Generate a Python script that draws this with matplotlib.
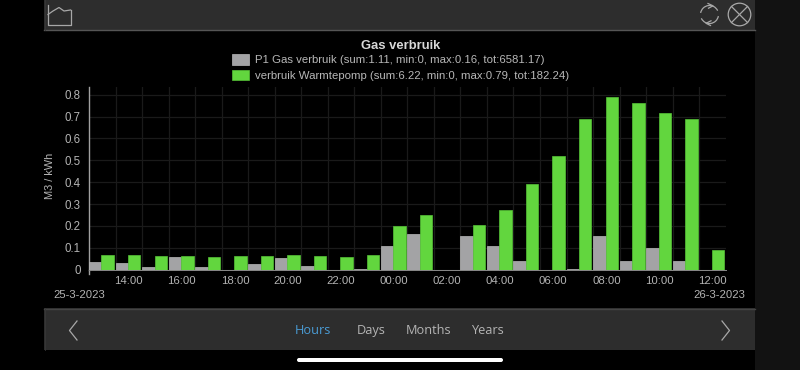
import matplotlib
matplotlib.use("Agg")
import matplotlib.pyplot as plt
from matplotlib.patches import Rectangle, Circle, FancyBboxPatch, Arc
import numpy as np

plt.rcParams['font.family'] = ['Liberation Sans', 'DejaVu Sans']

hours = ["13:00","14:00","15:00","16:00","17:00","18:00","19:00","20:00","21:00","22:00","23:00","00:00",
         "01:00","02:00","03:00","04:00","05:00","06:00","07:00","08:00","09:00","10:00","11:00","12:00"]
gas = [.035,.032,.012,.058,.013,0,.028,.053,.018,0,.002,.11,.165,0,.152,.107,.04,0,.002,.153,.04,.1,.04,0]
warmtepomp = [.065,.068,.063,.063,.058,.063,.063,.068,.063,.06,.065,.198,.248,0,.203,.275,.39,.52,.69,.79,.76,.715,.69,.09]
y_ticks = [0,.1,.2,.3,.4,.5,.6,.7,.8]
y_labels = ["0","0.1","0.2","0.3","0.4","0.5","0.6","0.7","0.8"]
title = "Gas verbruik"
ylabel = "M3 / kWh"
series_labels = ["P1 Gas verbruik (sum:1.11, min:0, max:0.16, tot:6581.17)",
                 "verbruik Warmtepomp (sum:6.22, min:0, max:0.79, tot:182.24)"]
date_start, date_end = "25-3-2023", "26-3-2023"
nav_labels = ["Hours", "Days", "Months", "Years"]

W, H = 800, 370
fig = plt.figure(figsize=(8, 3.7), dpi=100, facecolor='black')

# chrome layer in pixel coordinates
bg = fig.add_axes([0, 0, 1, 1], zorder=0)
bg.set_xlim(0, W); bg.set_ylim(H, 0); bg.axis('off')
bg.add_patch(Rectangle((755, 0), 45, H, fc='#121212', ec='none'))
bg.add_patch(Rectangle((44, 0), 711, 30, fc='#2d2d2d', ec='none'))
bg.plot([44, 755], [29.7, 29.7], color='#555555', lw=1)
bg.add_patch(Rectangle((44, 308), 711, 42, fc='#2d2d2d', ec='none'))
bg.plot([44, 755], [308.5, 308.5], color='#444444', lw=1)
bg.plot([44.5, 44.5], [0, 30], color='#383838', lw=0.6)
bg.plot([44.5, 44.5], [308, 350], color='#383838', lw=0.6)
bg.add_patch(FancyBboxPatch((297, 358), 206, 4, boxstyle="round,pad=0,rounding_size=2", fc='white', ec='none'))
ic = '#a8a8a8'
# chart icon
bg.plot([48, 48, 70.5, 70.5], [4.5, 24.8, 24.8, 10], color=ic, lw=0.9)
bg.plot([48, 53, 59, 64, 70.5], [14.5, 11, 7.5, 11, 10], color=ic, lw=0.9)
# refresh icon
cx, cy = 709.5, 14.5
bg.add_patch(Arc((cx, cy), 18, 18, theta1=190, theta2=335, color=ic, lw=0.9))
bg.add_patch(Arc((cx, cy), 18, 18, theta1=10, theta2=155, color=ic, lw=0.9))
bg.plot([708, 713, 708.5], [3.5, 5.8, 8.2], color=ic, lw=0.9)
bg.plot([711, 706, 710.5], [20.8, 23.3, 25.5], color=ic, lw=0.9)
# close icon
bg.add_patch(Circle((739.5, 14.5), 11.3, fc='none', ec=ic, lw=0.9))
d = 8
bg.plot([739.5-d, 739.5+d], [14.5-d, 14.5+d], color=ic, lw=0.9)
bg.plot([739.5-d, 739.5+d], [14.5+d, 14.5-d], color=ic, lw=0.9)
# chevrons
bg.plot([77, 69.5, 77], [321, 330.5, 340], color=ic, lw=0.9)
bg.plot([722, 729.5, 722], [321, 330.5, 340], color=ic, lw=0.9)

# chart axes
left, right, top, bottom = 89, 725.7, 87.3, 269.7
ax = fig.add_axes([left/W, 1-bottom/H, (right-left)/W, (bottom-top)/H], zorder=1)
ax.set_facecolor('none')
x = np.arange(len(hours))
w = 0.47
shift = -0.03
grid = '#1a1a1a'
b1 = ax.bar(x-w/2+shift, gas, w, color='#a3a3a5', edgecolor='#b8b8b8', linewidth=0.5, zorder=3)
b2 = ax.bar(x+w/2+shift, warmtepomp, w, color='#62d63e', edgecolor='#55c236', linewidth=0.5, zorder=3)
ax.set_xlim(-0.5, 23.5)
ax.set_ylim(0, 0.8*(bottom-top)/175.0)
ax.set_yticks(y_ticks, y_labels, color='#b4b4b4', fontsize=8.3)
ax.set_xticks(x[1::2], hours[1::2], color='#b4b4b4', fontsize=8.2)
ax.set_xticks(x[:-1]+0.5, minor=True)
ax.tick_params(axis='both', which='major', length=0)
ax.tick_params(axis='x', which='minor', length=0)
ax.tick_params(axis='y', pad=5.8)
ax.tick_params(axis='x', pad=4.6)
ax.yaxis.grid(True, color=grid, lw=0.9, zorder=0)
ax.xaxis.grid(True, which='minor', color=grid, lw=0.9, zorder=0)
ax.set_axisbelow(True)
for s in ['top', 'right']:
    ax.spines[s].set_visible(False)
ax.spines['left'].set_color('#a0a0a0'); ax.spines['left'].set_linewidth(1)
ax.spines['bottom'].set_color('#8a8a8a'); ax.spines['bottom'].set_linewidth(0.7)
bg.plot([89, 89], [269.7, 273.5], color='#a0a0a0', lw=1)

fig.text(400.5/W, 1-45.7/H, title, ha='center', va='center', color='#d8d8d8', fontsize=9.4, fontweight='bold')
fig.text(50/W, 1-176/H, ylabel, ha='center', va='center', rotation=90, color='#b4b4b4', fontsize=7.9)
fig.text(79.7/W, 1-295/H, date_start, ha='center', va='center', color='#b4b4b4', fontsize=8.1)
fig.text(719.5/W, 1-295/H, date_end, ha='center', va='center', color='#b4b4b4', fontsize=8.1)

leg = fig.legend([b1, b2], series_labels, loc='upper left', bbox_to_anchor=(231.5/W, 1-54.5/H),
                 frameon=False, fontsize=8.2, handlelength=1.58, handleheight=1.0,
                 handletextpad=0.5, labelspacing=0.38, borderpad=0, borderaxespad=0)
for t in leg.get_texts():
    t.set_color('#b8b8b8')

nav_x = [313, 371, 429, 487]
nav_c = ['#4a9bd4', '#b4b4b4', '#b4b4b4', '#b4b4b4']
for lab, nx, c in zip(nav_labels, nav_x, nav_c):
    fig.text(nx/W, 1-330.5/H, lab, ha='center', va='center', color=c, fontsize=9.2, family=['Open Sans', 'DejaVu Sans'])

fig.savefig('out.png', dpi=100, facecolor='black')
